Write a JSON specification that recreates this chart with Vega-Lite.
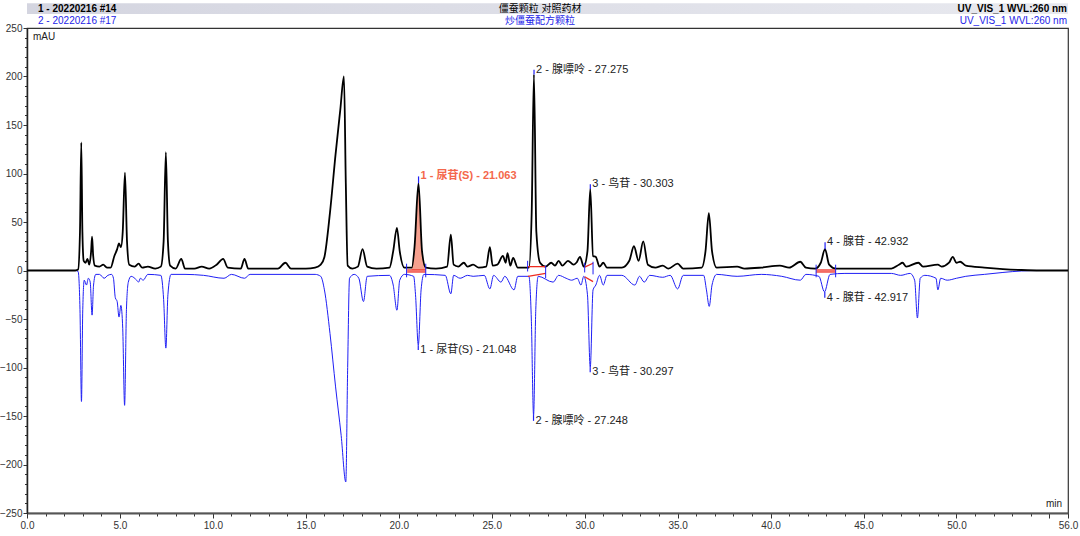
{
  "$schema": "https://vega.github.io/schema/vega-lite/v6.json",
  "width": 1041,
  "height": 485,
  "autosize": {"type": "none"},
  "padding": {"left": 27, "top": 28, "right": 12, "bottom": 23},
  "background": "white",
  "config": {
    "font": "Liberation Sans, Noto Sans CJK SC",
    "view": {"stroke": "#333", "strokeWidth": 1.2},
    "text": {"font": "Liberation Sans, Noto Sans CJK SC"}
  },
  "datasets": {
    "black": [
      {"t":0,"v":0},{"t":2.6,"v":0},{"t":2.75,"v":1},{"t":2.85,"v":40},{"t":2.92,"v":132},{"t":2.98,"v":40},{"t":3.05,"v":10},{"t":3.15,"v":8},{"t":3.25,"v":12},{"t":3.35,"v":6},{"t":3.45,"v":20},{"t":3.5,"v":35},{"t":3.56,"v":15},{"t":3.65,"v":5},{"t":3.9,"v":4},{"t":4.1,"v":6},{"t":4.3,"v":3},{"t":4.5,"v":3},{"t":4.7,"v":15},{"t":4.85,"v":22},{"t":4.95,"v":28},{"t":5.05,"v":24},{"t":5.15,"v":40},{"t":5.27,"v":101},{"t":5.38,"v":30},{"t":5.5,"v":6},{"t":5.8,"v":4},{"t":6.0,"v":7},{"t":6.2,"v":3},{"t":6.5,"v":4},{"t":6.9,"v":2},{"t":7.2,"v":4},{"t":7.35,"v":30},{"t":7.47,"v":122},{"t":7.58,"v":30},{"t":7.7,"v":5},{"t":8.0,"v":2},{"t":8.3,"v":12},{"t":8.5,"v":2},{"t":9.0,"v":2},{"t":9.4,"v":4},{"t":9.8,"v":2},{"t":10.2,"v":6},{"t":10.55,"v":12},{"t":10.8,"v":3},{"t":11.5,"v":2},{"t":11.7,"v":12},{"t":11.9,"v":2},{"t":13.5,"v":2},{"t":13.9,"v":8},{"t":14.2,"v":2},{"t":15.0,"v":2},{"t":15.5,"v":3},{"t":15.8,"v":6},{"t":16.0,"v":14},{"t":16.3,"v":60},{"t":16.6,"v":120},{"t":16.85,"v":165},{"t":17.05,"v":200},{"t":17.15,"v":90},{"t":17.25,"v":5},{"t":17.5,"v":2},{"t":17.8,"v":4},{"t":18.05,"v":22},{"t":18.3,"v":4},{"t":18.8,"v":2},{"t":19.5,"v":3},{"t":19.7,"v":20},{"t":19.9,"v":44},{"t":20.05,"v":20},{"t":20.3,"v":3},{"t":20.7,"v":3},{"t":20.85,"v":25},{"t":21.06,"v":90},{"t":21.25,"v":20},{"t":21.45,"v":3},{"t":22.0,"v":2},{"t":22.6,"v":4},{"t":22.8,"v":37},{"t":22.95,"v":6},{"t":23.2,"v":4},{"t":23.5,"v":8},{"t":23.7,"v":4},{"t":24.0,"v":6},{"t":24.3,"v":3},{"t":24.7,"v":4},{"t":24.9,"v":24},{"t":25.05,"v":5},{"t":25.3,"v":6},{"t":25.6,"v":15},{"t":25.75,"v":8},{"t":25.85,"v":18},{"t":26.0,"v":5},{"t":26.15,"v":13},{"t":26.4,"v":3},{"t":27.0,"v":3},{"t":27.15,"v":60},{"t":27.27,"v":202},{"t":27.4,"v":40},{"t":27.6,"v":8},{"t":27.9,"v":4},{"t":28.2,"v":8},{"t":28.4,"v":5},{"t":28.6,"v":10},{"t":28.8,"v":5},{"t":29.1,"v":10},{"t":29.4,"v":6},{"t":29.55,"v":8},{"t":29.75,"v":14},{"t":29.95,"v":4},{"t":30.15,"v":20},{"t":30.3,"v":84},{"t":30.45,"v":15},{"t":30.6,"v":14},{"t":30.8,"v":4},{"t":31.0,"v":8},{"t":31.2,"v":3},{"t":31.6,"v":3},{"t":32.0,"v":3},{"t":32.4,"v":10},{"t":32.65,"v":25},{"t":32.9,"v":10},{"t":33.15,"v":30},{"t":33.4,"v":6},{"t":33.8,"v":3},{"t":34.2,"v":5},{"t":34.5,"v":2},{"t":35.0,"v":7},{"t":35.3,"v":2},{"t":36.3,"v":3},{"t":36.5,"v":20},{"t":36.68,"v":59},{"t":36.85,"v":20},{"t":37.1,"v":3},{"t":38.2,"v":4},{"t":38.6,"v":2},{"t":39.5,"v":3},{"t":40.5,"v":5},{"t":41.0,"v":3},{"t":41.6,"v":9},{"t":41.9,"v":3},{"t":42.4,"v":2},{"t":42.7,"v":8},{"t":42.93,"v":22},{"t":43.15,"v":6},{"t":43.5,"v":2},{"t":44.5,"v":2},{"t":46.5,"v":2},{"t":46.9,"v":6},{"t":47.1,"v":8},{"t":47.3,"v":4},{"t":47.95,"v":8},{"t":48.2,"v":4},{"t":49.0,"v":6},{"t":49.2,"v":4},{"t":49.6,"v":8},{"t":49.8,"v":14},{"t":50.0,"v":8},{"t":50.2,"v":9},{"t":50.5,"v":5},{"t":51.5,"v":3},{"t":52.5,"v":1.5},{"t":53.5,"v":0.5},{"t":54.5,"v":0},{"t":56,"v":0}
    ],
    "blue": [
      {"t":0,"v":0},{"t":2.6,"v":0},{"t":2.75,"v":-1},{"t":2.85,"v":-40},{"t":2.93,"v":-135},{"t":3.0,"v":-40},{"t":3.08,"v":-10},{"t":3.2,"v":-15},{"t":3.3,"v":-8},{"t":3.4,"v":-12},{"t":3.5,"v":-46},{"t":3.58,"v":-15},{"t":3.7,"v":-4},{"t":3.9,"v":-4},{"t":4.15,"v":-8},{"t":4.35,"v":-5},{"t":4.55,"v":-4},{"t":4.65,"v":-8},{"t":4.75,"v":-28},{"t":4.85,"v":-32},{"t":4.95,"v":-48},{"t":5.05,"v":-36},{"t":5.15,"v":-60},{"t":5.25,"v":-139},{"t":5.35,"v":-40},{"t":5.45,"v":-12},{"t":5.6,"v":-6},{"t":5.9,"v":-10},{"t":6.0,"v":-12},{"t":6.1,"v":-8},{"t":6.25,"v":-10},{"t":6.5,"v":-4},{"t":7.2,"v":-5},{"t":7.35,"v":-30},{"t":7.47,"v":-80},{"t":7.58,"v":-25},{"t":7.75,"v":-4},{"t":8.5,"v":-4},{"t":9.5,"v":-5},{"t":10.6,"v":-8},{"t":11.0,"v":-4},{"t":11.7,"v":-8},{"t":12.0,"v":-4},{"t":15.5,"v":-4},{"t":15.8,"v":-6},{"t":16.0,"v":-20},{"t":16.3,"v":-65},{"t":16.6,"v":-120},{"t":16.9,"v":-170},{"t":17.15,"v":-218},{"t":17.25,"v":-100},{"t":17.35,"v":-8},{"t":17.6,"v":-4},{"t":17.85,"v":-8},{"t":18.1,"v":-32},{"t":18.3,"v":-6},{"t":19.5,"v":-5},{"t":19.7,"v":-15},{"t":19.9,"v":-41},{"t":20.05,"v":-10},{"t":20.3,"v":-4},{"t":20.8,"v":-6},{"t":20.9,"v":-25},{"t":21.05,"v":-77},{"t":21.2,"v":-20},{"t":21.35,"v":-4},{"t":22.5,"v":-5},{"t":22.8,"v":-24},{"t":22.95,"v":-5},{"t":23.3,"v":-8},{"t":23.7,"v":-5},{"t":24.0,"v":-6},{"t":24.6,"v":-5},{"t":24.9,"v":-19},{"t":25.1,"v":-5},{"t":25.5,"v":-12},{"t":25.7,"v":-6},{"t":26.2,"v":-20},{"t":26.4,"v":-6},{"t":27.0,"v":-6},{"t":27.13,"v":-50},{"t":27.25,"v":-149},{"t":27.37,"v":-40},{"t":27.5,"v":-6},{"t":28.3,"v":-12},{"t":28.6,"v":-5},{"t":29.0,"v":-8},{"t":29.3,"v":-10},{"t":29.6,"v":-8},{"t":29.8,"v":-15},{"t":29.95,"v":-6},{"t":30.15,"v":-25},{"t":30.3,"v":-100},{"t":30.45,"v":-20},{"t":30.6,"v":-15},{"t":30.8,"v":-5},{"t":31.0,"v":-15},{"t":31.2,"v":-5},{"t":32.0,"v":-5},{"t":32.7,"v":-15},{"t":32.95,"v":-6},{"t":33.2,"v":-12},{"t":33.5,"v":-5},{"t":34.2,"v":-7},{"t":34.6,"v":-5},{"t":35.0,"v":-19},{"t":35.3,"v":-5},{"t":36.4,"v":-5},{"t":36.55,"v":-20},{"t":36.7,"v":-37},{"t":36.85,"v":-15},{"t":37.1,"v":-4},{"t":38.2,"v":-6},{"t":39.5,"v":-4},{"t":40.6,"v":-6},{"t":41.6,"v":-10},{"t":41.9,"v":-4},{"t":42.6,"v":-6},{"t":42.9,"v":-22},{"t":43.2,"v":-4},{"t":44.0,"v":-3},{"t":46.5,"v":-3},{"t":47.0,"v":-5},{"t":47.5,"v":-3},{"t":47.75,"v":-10},{"t":47.9,"v":-49},{"t":48.05,"v":-8},{"t":48.3,"v":-5},{"t":48.9,"v":-8},{"t":49.0,"v":-20},{"t":49.15,"v":-8},{"t":49.5,"v":-10},{"t":50.0,"v":-8},{"t":50.5,"v":-6},{"t":51.5,"v":-4},{"t":52.5,"v":-2},{"t":53.5,"v":-0.5},{"t":54.5,"v":0},{"t":56,"v":0}
    ],
    "labels": [
      {"t":21.063,"vp":90,"v":97,"text":"1 - 尿苷(S) - 21.063","hl":1},
      {"t":27.275,"vp":202,"v":207,"text":"2 - 腺嘌呤 - 27.275","hl":0},
      {"t":30.303,"vp":84,"v":89,"text":"3 - 鸟苷 - 30.303","hl":0},
      {"t":42.932,"vp":22,"v":29,"text":"4 - 腺苷 - 42.932","hl":0},
      {"t":21.048,"vp":-77,"v":-82,"text":"1 - 尿苷(S) - 21.048","hl":0},
      {"t":27.248,"vp":-149,"v":-155,"text":"2 - 腺嘌呤 - 27.248","hl":0},
      {"t":30.297,"vp":-100,"v":-105,"text":"3 - 鸟苷 - 30.297","hl":0},
      {"t":42.917,"vp":-22,"v":-28,"text":"4 - 腺苷 - 42.917","hl":0}
    ],
    "bl": [
      {"seg":"a","t":20.45,"v":0.5},{"seg":"a","t":21.45,"v":0.5},
      {"seg":"b","t":20.45,"v":-1.5},{"seg":"b","t":21.45,"v":-1.5},
      {"seg":"c","t":26.95,"v":4},{"seg":"c","t":27.9,"v":4},
      {"seg":"d","t":26.95,"v":-6},{"seg":"d","t":27.9,"v":-3},
      {"seg":"e","t":30.0,"v":3.5},{"seg":"e","t":30.45,"v":7.5},
      {"seg":"f","t":30.0,"v":-6.5},{"seg":"f","t":30.45,"v":-11.5},
      {"seg":"g","t":42.45,"v":0.5},{"seg":"g","t":43.5,"v":0.5},
      {"seg":"h","t":42.45,"v":-1.5},{"seg":"h","t":43.5,"v":-1.5}
    ],
    "ticks": [
      {"t":20.42,"a":7,"b":-7},{"t":21.45,"a":7,"b":-7},
      {"t":26.93,"a":10,"b":-1},{"t":27.9,"a":5,"b":-8},
      {"t":30.0,"a":8,"b":-2},{"t":30.45,"a":9,"b":-4},
      {"t":42.45,"a":6,"b":-7},{"t":43.5,"a":6,"b":-7}
    ]
  },
  "layer": [
    {
      "data": {"values": [{}]},
      "mark": {"type": "rect", "fill": {"x1": 0, "y1": 0, "x2": 1, "y2": 0, "gradient": "linear", "stops": [{"offset": 0, "color": "#d4d5e0"}, {"offset": 1, "color": "#e8e9ef"}]}},
      "encoding": {
        "x": {"datum": 0, "type": "quantitative", "scale": {"domain": [0, 56], "nice": false, "zero": false}},
        "x2": {"datum": 56},
        "y": {"datum": 275.5, "type": "quantitative", "scale": {"domain": [-250, 250], "nice": false, "zero": false}},
        "y2": {"datum": 264.5}
      }
    },
    {
      "data": {"name": "black"},
      "transform": [{"filter": "datum.t >= 20.6 && datum.t <= 21.45"}],
      "mark": {"type": "area", "color": "#f6a08e", "interpolate": "monotone", "opacity": 1},
      "encoding": {
        "x": {"field": "t", "type": "quantitative"},
        "y": {"field": "v", "type": "quantitative"},
        "y2": {"datum": 0.5}
      }
    },
    {
      "data": {"name": "blue"},
      "mark": {"type": "line", "color": "#1f1ff5", "strokeWidth": 1, "interpolate": "monotone"},
      "encoding": {
        "x": {"field": "t", "type": "quantitative",
          "axis": {"title": null, "tickCount": 200, "values": [0,1,2,3,4,5,6,7,8,9,10,11,12,13,14,15,16,17,18,19,20,21,22,23,24,25,26,27,28,29,30,31,32,33,34,35,36,37,38,39,40,41,42,43,44,45,46,47,48,49,50,51,52,53,54,55,56],
            "labelExpr": "(datum.value % 5 === 0 && datum.value <= 50) || datum.value === 56 ? format(datum.value, '.1f') : ''",
            "tickSize": {"condition": {"test": "datum.value % 5 === 0 || datum.value === 56", "value": 5}, "value": 3},
            "labelOverlap": false, "labelFlush": false, "grid": false,
            "domainColor": "#555", "domainWidth": 2, "tickColor": "#333", "labelColor": "#333", "labelFontSize": 10, "labelPadding": 2, "labelFont": "Liberation Sans"}},
        "y": {"field": "v", "type": "quantitative",
          "axis": {"title": null, "tickCount": 200, "values": [-250,-240,-230,-220,-210,-200,-190,-180,-170,-160,-150,-140,-130,-120,-110,-100,-90,-80,-70,-60,-50,-40,-30,-20,-10,0,10,20,30,40,50,60,70,80,90,100,110,120,130,140,150,160,170,180,190,200,210,220,230,240,250],
            "labelExpr": "datum.value % 50 === 0 ? format(datum.value, 'd') : ''",
            "tickSize": {"condition": {"test": "datum.value % 50 === 0", "value": 4}, "value": 2.5},
            "labelOverlap": false, "labelFlush": false, "grid": false,
            "domainColor": "#222", "domainWidth": 1.5, "tickColor": "#333", "labelColor": "#333", "labelFontSize": 10, "labelPadding": 1, "labelFont": "Liberation Sans"}}
      }
    },
    {
      "data": {"name": "black"},
      "mark": {"type": "line", "color": "#000000", "strokeWidth": 1.8, "interpolate": "monotone"},
      "encoding": {
        "x": {"field": "t", "type": "quantitative"},
        "y": {"field": "v", "type": "quantitative"}
      }
    },
    {
      "data": {"name": "bl"},
      "mark": {"type": "line", "color": "#ee2a1f", "strokeWidth": 1.3},
      "encoding": {
        "x": {"field": "t", "type": "quantitative"},
        "y": {"field": "v", "type": "quantitative"},
        "detail": {"field": "seg"}
      }
    },
    {
      "data": {"name": "ticks"},
      "mark": {"type": "rule", "color": "#1f1ff5", "strokeWidth": 1},
      "encoding": {
        "x": {"field": "t", "type": "quantitative"},
        "y": {"field": "a", "type": "quantitative"},
        "y2": {"field": "b"}
      }
    },
    {
      "data": {"name": "labels"},
      "mark": {"type": "rule", "color": "#1f1ff5", "strokeWidth": 1.2},
      "encoding": {
        "x": {"field": "t", "type": "quantitative"},
        "y": {"field": "vp", "type": "quantitative"},
        "y2": {"field": "v"}
      }
    },
    {
      "data": {"name": "labels"},
      "transform": [{"filter": "datum.hl === 0"}],
      "mark": {"type": "text", "align": "left", "baseline": "middle", "dx": 2, "fontSize": 11, "color": "#222222"},
      "encoding": {
        "x": {"field": "t", "type": "quantitative"},
        "y": {"field": "v", "type": "quantitative"},
        "text": {"field": "text"}
      }
    },
    {
      "data": {"name": "labels"},
      "transform": [{"filter": "datum.hl === 1"}],
      "mark": {"type": "text", "align": "left", "baseline": "middle", "dx": 2, "fontSize": 11, "fontWeight": "bold", "color": "#f4674b"},
      "encoding": {
        "x": {"field": "t", "type": "quantitative"},
        "y": {"field": "v", "type": "quantitative"},
        "text": {"field": "text"}
      }
    },
    {
      "data": {"values": [{}]},
      "layer": [
        {"mark": {"type": "text", "text": "1 - 20220216 #14", "align": "left", "baseline": "middle", "dx": 11, "dy": -19, "fontSize": 10, "fontWeight": "bold", "color": "#000"},
         "encoding": {"x": {"datum": 0, "type": "quantitative"}, "y": {"datum": 250, "type": "quantitative"}}},
        {"mark": {"type": "text", "text": "2 - 20220216 #17", "align": "left", "baseline": "middle", "dx": 11, "dy": -7.5, "fontSize": 10, "color": "#2323e8"},
         "encoding": {"x": {"datum": 0, "type": "quantitative"}, "y": {"datum": 250, "type": "quantitative"}}},
        {"mark": {"type": "text", "text": "僵蚕颗粒 对照药材", "align": "center", "baseline": "middle", "dy": -19, "fontSize": 10, "color": "#000"},
         "encoding": {"x": {"datum": 27.6, "type": "quantitative"}, "y": {"datum": 250, "type": "quantitative"}}},
        {"mark": {"type": "text", "text": "炒僵蚕配方颗粒", "align": "center", "baseline": "middle", "dy": -7.5, "fontSize": 10, "color": "#2323e8"},
         "encoding": {"x": {"datum": 27.6, "type": "quantitative"}, "y": {"datum": 250, "type": "quantitative"}}},
        {"mark": {"type": "text", "text": "UV_VIS_1 WVL:260 nm", "align": "right", "baseline": "middle", "dx": -1, "dy": -19, "fontSize": 10, "fontWeight": "bold", "color": "#000"},
         "encoding": {"x": {"datum": 56, "type": "quantitative"}, "y": {"datum": 250, "type": "quantitative"}}},
        {"mark": {"type": "text", "text": "UV_VIS_1 WVL:260 nm", "align": "right", "baseline": "middle", "dx": -1, "dy": -7.5, "fontSize": 10, "color": "#2323e8"},
         "encoding": {"x": {"datum": 56, "type": "quantitative"}, "y": {"datum": 250, "type": "quantitative"}}},
        {"mark": {"type": "text", "text": "mAU", "align": "left", "baseline": "middle", "dx": 6, "dy": 9, "fontSize": 10, "color": "#222"},
         "encoding": {"x": {"datum": 0, "type": "quantitative"}, "y": {"datum": 250, "type": "quantitative"}}},
        {"mark": {"type": "text", "text": "min", "align": "right", "baseline": "middle", "dx": -6, "dy": -9, "fontSize": 10, "color": "#222"},
         "encoding": {"x": {"datum": 56, "type": "quantitative"}, "y": {"datum": -250, "type": "quantitative"}}}
      ]
    }
  ]
}
